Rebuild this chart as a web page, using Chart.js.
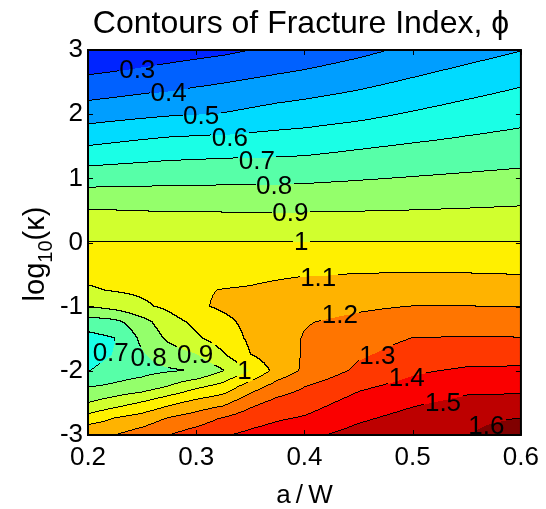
<!DOCTYPE html>
<html>
<head>
<meta charset="utf-8">
<script src="https://cdn.jsdelivr.net/npm/chart.js@4"></script>
<style>
  html, body { margin: 0; padding: 0; background: #fff; }
  canvas { display: block; }
</style>
</head>
<body>
<canvas id="contourChart" width="546" height="509"></canvas>
<script>
// grid of a/W (columns) and log10(kappa) (rows, top to bottom)
const xVals = [0.2, 0.225, 0.25, 0.275, 0.3, 0.325, 0.35, 0.375, 0.4, 0.45, 0.5, 0.55, 0.6];
const yVals = [3, 2.5, 2, 1.5, 1, 0.5, 0, -0.25, -0.5, -0.75, -1, -1.25, -1.5, -1.75, -2, -2.25, -2.5, -2.75, -3];

// fracture index phi
const phi = [
  [0.210, 0.221, 0.239, 0.253, 0.266, 0.279, 0.299, 0.316, 0.333, 0.374, 0.419, 0.457, 0.496],
  [0.324, 0.337, 0.352, 0.364, 0.380, 0.395, 0.410, 0.426, 0.440, 0.474, 0.512, 0.550, 0.587],
  [0.453, 0.466, 0.478, 0.489, 0.498, 0.503, 0.520, 0.537, 0.549, 0.574, 0.608, 0.640, 0.666],
  [0.601, 0.615, 0.629, 0.642, 0.647, 0.653, 0.656, 0.660, 0.664, 0.688, 0.709, 0.727, 0.744],
  [0.758, 0.763, 0.766, 0.769, 0.771, 0.774, 0.775, 0.777, 0.780, 0.792, 0.804, 0.815, 0.825],
  [0.902, 0.900, 0.897, 0.895, 0.894, 0.893, 0.893, 0.893, 0.893, 0.896, 0.900, 0.905, 0.911],
  [1.000, 1.000, 1.000, 1.000, 1.000, 1.000, 1.000, 1.000, 1.000, 1.000, 1.000, 1.000, 1.000],
  [1.035, 1.037, 1.040, 1.042, 1.044, 1.046, 1.047, 1.047, 1.047, 1.050, 1.053, 1.052, 1.050],
  [1.020, 1.025, 1.030, 1.040, 1.050, 1.060, 1.075, 1.085, 1.094, 1.102, 1.106, 1.104, 1.099],
  [0.990, 1.006, 1.017, 1.030, 1.088, 1.104, 1.110, 1.125, 1.140, 1.145, 1.153, 1.152, 1.151],
  [0.901, 0.935, 0.983, 1.020, 1.085, 1.115, 1.135, 1.155, 1.170, 1.186, 1.201, 1.201, 1.198],
  [0.750, 0.770, 0.860, 0.960, 1.020, 1.075, 1.125, 1.158, 1.195, 1.222, 1.250, 1.253, 1.249],
  [0.665, 0.698, 0.820, 0.920, 0.985, 1.045, 1.115, 1.163, 1.205, 1.254, 1.302, 1.306, 1.304],
  [0.652, 0.706, 0.790, 0.850, 0.895, 0.990, 1.098, 1.165, 1.205, 1.286, 1.343, 1.358, 1.360],
  [0.695, 0.750, 0.770, 0.790, 0.805, 0.895, 1.003, 1.135, 1.215, 1.320, 1.386, 1.412, 1.416],
  [0.796, 0.816, 0.843, 0.905, 0.979, 1.035, 1.150, 1.240, 1.298, 1.383, 1.432, 1.470, 1.473],
  [0.898, 0.951, 1.006, 1.072, 1.130, 1.170, 1.270, 1.330, 1.355, 1.436, 1.486, 1.526, 1.533],
  [1.044, 1.106, 1.146, 1.210, 1.250, 1.310, 1.360, 1.390, 1.410, 1.485, 1.534, 1.579, 1.602],
  [1.190, 1.198, 1.245, 1.298, 1.346, 1.391, 1.420, 1.447, 1.475, 1.535, 1.575, 1.595, 1.660]
];

const levels = [0.3, 0.4, 0.5, 0.6, 0.7, 0.8, 0.9, 1.0, 1.1, 1.2, 1.3, 1.4, 1.5, 1.6];
// jet colours, one per band
const bandColors = [
  [0, 36, 255], [0, 97, 255], [0, 158, 255], [0, 219, 255], [26, 255, 230],
  [87, 255, 168], [148, 255, 107], [209, 255, 46], [255, 240, 0], [255, 179, 0],
  [255, 117, 0], [255, 56, 0], [250, 0, 0], [189, 0, 0], [128, 0, 0]
];

const xTicks = [0.2, 0.3, 0.4, 0.5, 0.6];
const yTicks = [-3, -2, -1, 0, 1, 2, 3];

// clabel texts and where they sit (data units)
const labelText = ['0.3', '0.4', '0.5', '0.6', '0.7', '0.8', '0.9', '1', '1.1', '1.2', '1.3', '1.4', '1.5', '1.6', '0.7', '0.8', '0.9', '1'];
const labelX = [0.2455, 0.2745, 0.3045, 0.331, 0.356, 0.372, 0.387, 0.397, 0.4127, 0.4327, 0.4673, 0.4945, 0.528, 0.568, 0.221, 0.256, 0.299, 0.3445];
const labelY = [2.71, 2.34, 1.99, 1.65, 1.29, 0.89, 0.47, 0.02, -0.53, -1.12, -1.76, -2.10, -2.49, -2.85, -1.70, -1.79, -1.73, -1.99];

const FONT = "'Liberation Sans', Arial, sans-serif";

function locate(arr, v) {
  for (let i = 0; i < arr.length - 1; i++) {
    const a = arr[i], b = arr[i + 1];
    if ((v - a) * (v - b) <= 0) return [i, (v - a) / (b - a)];
  }
  return Math.abs(v - arr[0]) < Math.abs(v - arr[arr.length - 1]) ? [0, 0] : [arr.length - 2, 1];
}

function bandOf(v) {
  let k = 0;
  while (k < levels.length && v >= levels[k]) k++;
  return k;
}

const contourPlugin = {
  id: 'contourFill',
  beforeDatasetsDraw(chart) {
    const { ctx, chartArea: area, scales: { x, y } } = chart;
    const left = Math.round(area.left), top = Math.round(area.top);
    const w = Math.round(area.right) - left, h = Math.round(area.bottom) - top;
    const cols = [], rows = [];
    for (let i = 0; i < w; i++) cols.push(locate(xVals, x.getValueForPixel(left + i + 0.5)));
    for (let j = 0; j < h; j++) rows.push(locate(yVals, y.getValueForPixel(top + j + 0.5)));

    const band = new Int8Array(w * h);
    for (let j = 0; j < h; j++) {
      const [r, ty] = rows[j];
      for (let i = 0; i < w; i++) {
        const [c, tx] = cols[i];
        const v = (1 - ty) * ((1 - tx) * phi[r][c] + tx * phi[r][c + 1]) +
                  ty * ((1 - tx) * phi[r + 1][c] + tx * phi[r + 1][c + 1]);
        band[j * w + i] = bandOf(v);
      }
    }

    // gaps in the lines under the labels
    ctx.font = '26px ' + FONT;
    const boxes = labelText.map((t, k) => {
      const cx = x.getPixelForValue(labelX[k]) - left;
      const cy = y.getPixelForValue(labelY[k]) - top;
      const hw = ctx.measureText(t).width / 2 + 1;
      return [cx - hw, cy - 11, cx + hw, cy + 11];
    });
    const inBox = (i, j) => boxes.some(b => i >= b[0] && i <= b[2] && j >= b[1] && j <= b[3]);

    const img = ctx.createImageData(w, h);
    for (let j = 0; j < h; j++) {
      for (let i = 0; i < w; i++) {
        const k = j * w + i;
        const b = band[k];
        let edge = (i < w - 1 && band[k + 1] !== b) || (j < h - 1 && band[k + w] !== b);
        if (edge && inBox(i, j)) edge = false;
        const col = edge ? [0, 0, 0] : bandColors[b];
        img.data[k * 4] = col[0];
        img.data[k * 4 + 1] = col[1];
        img.data[k * 4 + 2] = col[2];
        img.data[k * 4 + 3] = 255;
      }
    }
    ctx.putImageData(img, left, top);
  },
  afterDraw(chart) {
    const { ctx, chartArea: area, scales: { x, y } } = chart;
    ctx.save();
    ctx.strokeStyle = '#000';
    ctx.lineWidth = 1;
    // inward ticks on all four sides
    ctx.beginPath();
    xTicks.forEach(v => {
      const px = Math.round(x.getPixelForValue(v)) + 0.5;
      ctx.moveTo(px, area.bottom); ctx.lineTo(px, area.bottom - 5);
      ctx.moveTo(px, area.top); ctx.lineTo(px, area.top + 5);
    });
    yTicks.forEach(v => {
      const py = Math.round(y.getPixelForValue(v)) + 0.5;
      ctx.moveTo(area.left, py); ctx.lineTo(area.left + 5, py);
      ctx.moveTo(area.right, py); ctx.lineTo(area.right - 5, py);
    });
    ctx.stroke();
    // box
    ctx.lineWidth = 2;
    ctx.strokeRect(area.left, area.top, area.right - area.left, area.bottom - area.top);

    // contour labels
    ctx.fillStyle = '#000';
    ctx.font = '26px ' + FONT;
    ctx.textAlign = 'center';
    ctx.textBaseline = 'alphabetic';
    labelText.forEach((t, k) => {
      ctx.fillText(t, x.getPixelForValue(labelX[k]), y.getPixelForValue(labelY[k]) + 9);
    });

    // title
    ctx.font = '32px ' + FONT;
    ctx.fillText('Contours of Fracture Index, \u03D5', 301, 33);

    // x label
    ctx.font = '26px ' + FONT;
    ctx.fillText('a\u2009/\u2009W', (area.left + area.right) / 2, 503);

    // y label with subscript
    ctx.translate(44, 254);
    ctx.rotate(-Math.PI / 2);
    const parts = [['log', '29px ', 0], ['10', '20px ', 8], ['(\u03BA)', '29px ', 0]];
    let total = 0;
    parts.forEach(p => { ctx.font = p[1] + FONT; total += ctx.measureText(p[0]).width; });
    let pos = -total / 2;
    ctx.textAlign = 'left';
    parts.forEach(p => {
      ctx.font = p[1] + FONT;
      ctx.fillText(p[0], pos, p[2]);
      pos += ctx.measureText(p[0]).width;
    });
    ctx.restore();
  }
};

const canvas = document.getElementById('contourChart');
new Chart(canvas, {
  type: 'scatter',
  data: { datasets: [{ data: [], pointRadius: 0 }] },
  options: {
    responsive: false,
    animation: false,
    devicePixelRatio: 1,
    layout: { padding: { top: 50, right: 18, left: 0, bottom: 0 } },
    plugins: {
      legend: { display: false },
      tooltip: { enabled: false },
      title: { display: false }
    },
    scales: {
      x: {
        type: 'linear', min: 0.2, max: 0.6,
        grid: { display: false, drawTicks: false },
        border: { display: false },
        afterBuildTicks: s => { s.ticks = xTicks.map(v => ({ value: v })); },
        afterFit: s => { s.height = 509 - 435; },
        ticks: {
          font: { family: FONT, size: 26 }, color: '#000', padding: 7,
          maxRotation: 0, autoSkip: false,
          callback: v => v.toFixed(1)
        }
      },
      y: {
        type: 'linear', min: -3, max: 3,
        grid: { display: false, drawTicks: false },
        border: { display: false },
        afterBuildTicks: s => { s.ticks = yTicks.map(v => ({ value: v })); },
        afterFit: s => { s.width = 88; },
        ticks: {
          font: { family: FONT, size: 26 }, color: '#000', padding: 5,
          autoSkip: false,
          callback: v => String(v)
        }
      }
    }
  },
  plugins: [contourPlugin]
});
</script>
</body>
</html>
